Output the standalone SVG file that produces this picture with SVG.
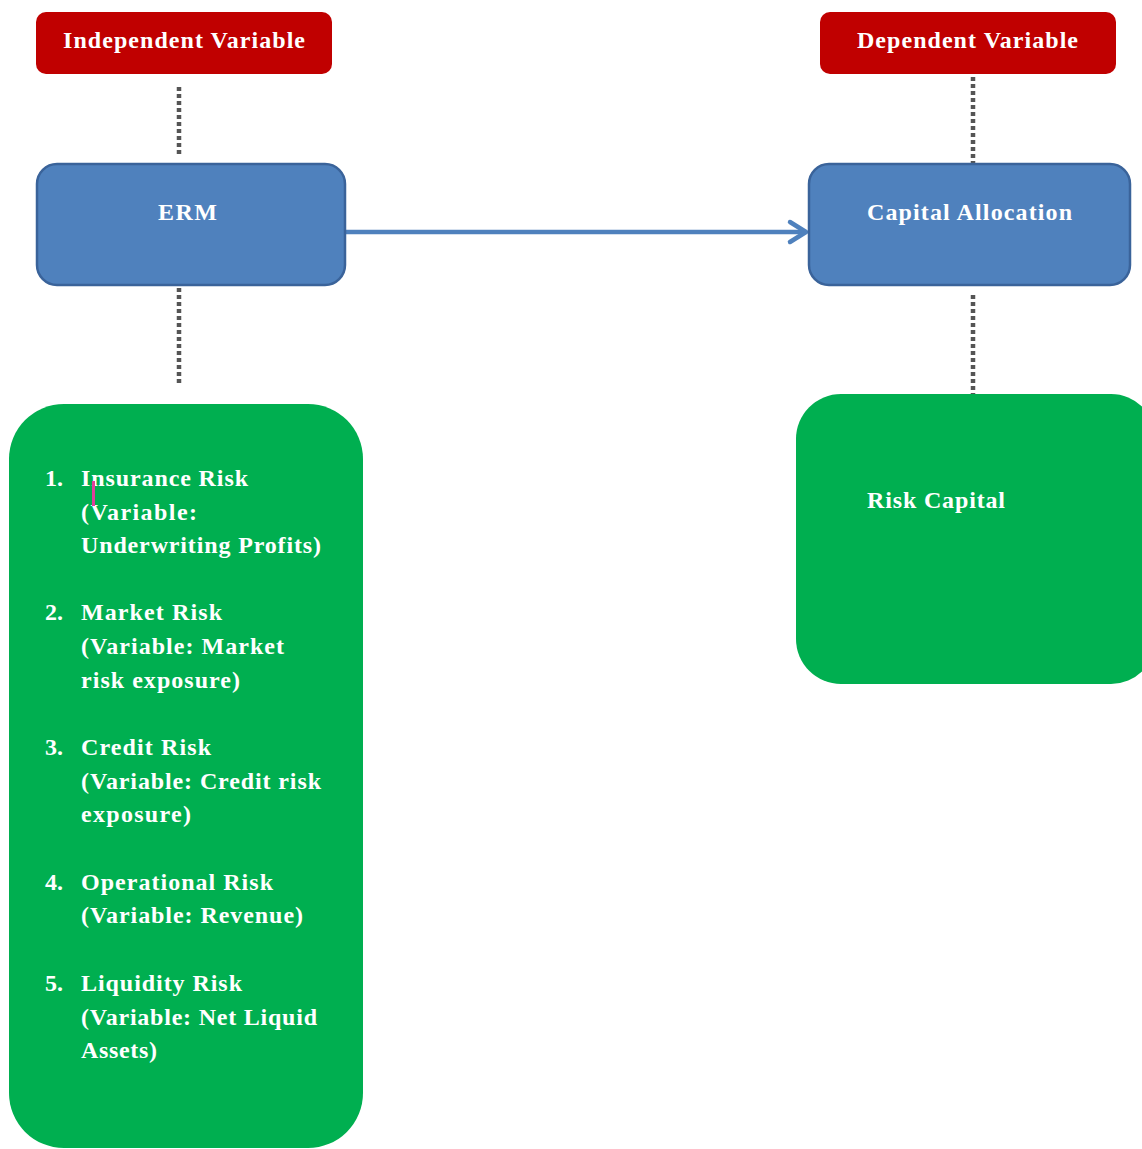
<svg xmlns="http://www.w3.org/2000/svg" width="1142" height="1149" viewBox="0 0 1142 1149">
<style>
.red{fill:#C00000;}
.blue{fill:#4F81BD;stroke:#3A639A;stroke-width:2.5;}
.green{fill:#00AF50;}
.t{font-family:"Liberation Serif","Times New Roman",serif;font-weight:bold;fill:#FFFFFF;font-size:24px;}
.dot{stroke:#555555;stroke-width:4.5;stroke-dasharray:4 3;fill:none;}
.arr{stroke:#4F81BD;stroke-width:4.5;fill:none;stroke-linecap:round;stroke-linejoin:round;}
</style>
<rect width="1142" height="1149" fill="#FFFFFF"/>
<g id="connectors">
<line class="dot" x1="179" y1="87" x2="179" y2="154"/>
<line class="dot" x1="179" y1="288" x2="179" y2="386"/>
<line class="dot" x1="973" y1="77" x2="973" y2="163"/>
<line class="dot" x1="973" y1="295" x2="973" y2="396"/>
<line class="arr" x1="346" y1="232" x2="804" y2="232"/>
<path class="arr" d="M790,222 L806,232 L790,242"/>
</g>
<g id="independent">
<rect class="red" x="36" y="12" width="296" height="62" rx="10"/>
<text class="t" x="63" y="48" textLength="242">Independent Variable</text>
</g>
<g id="dependent">
<rect class="red" x="820" y="12" width="296" height="62" rx="10"/>
<text class="t" x="857" y="48" textLength="221">Dependent Variable</text>
</g>
<g id="erm">
<rect class="blue" x="37" y="164" width="308" height="121" rx="20"/>
<text class="t" x="158" y="220" textLength="59">ERM</text>
</g>
<g id="capital-allocation">
<rect class="blue" x="809" y="164" width="321" height="121" rx="20"/>
<text class="t" x="867" y="220" textLength="205">Capital Allocation</text>
</g>
<g id="risks">
<rect class="green" x="9" y="404" width="354" height="744" rx="55"/>
<text class="t" x="45" y="486">1.</text>
<text class="t" x="81" y="486" textLength="167">Insurance Risk</text>
<text class="t" x="81" y="520" textLength="116">(Variable:</text>
<text class="t" x="81" y="553" textLength="240">Underwriting Profits)</text>
<text class="t" x="45" y="620">2.</text>
<text class="t" x="81" y="620" textLength="141">Market Risk</text>
<text class="t" x="81" y="654" textLength="203">(Variable: Market</text>
<text class="t" x="81" y="688" textLength="159">risk exposure)</text>
<text class="t" x="45" y="755">3.</text>
<text class="t" x="81" y="755" textLength="130">Credit Risk</text>
<text class="t" x="81" y="789" textLength="240">(Variable: Credit risk</text>
<text class="t" x="81" y="822" textLength="110">exposure)</text>
<text class="t" x="45" y="890">4.</text>
<text class="t" x="81" y="890" textLength="192">Operational Risk</text>
<text class="t" x="81" y="923" textLength="222">(Variable: Revenue)</text>
<text class="t" x="45" y="991">5.</text>
<text class="t" x="81" y="991" textLength="161">Liquidity Risk</text>
<text class="t" x="81" y="1025" textLength="236">(Variable: Net Liquid</text>
<text class="t" x="81" y="1058" textLength="76">Assets)</text>
<rect x="92" y="481" width="3" height="25" fill="#E0409A"/>
</g>
<g id="risk-capital">
<rect class="green" x="796" y="394" width="360" height="290" rx="45"/>
<text class="t" x="867" y="508" textLength="138">Risk Capital</text>
</g>
</svg>
